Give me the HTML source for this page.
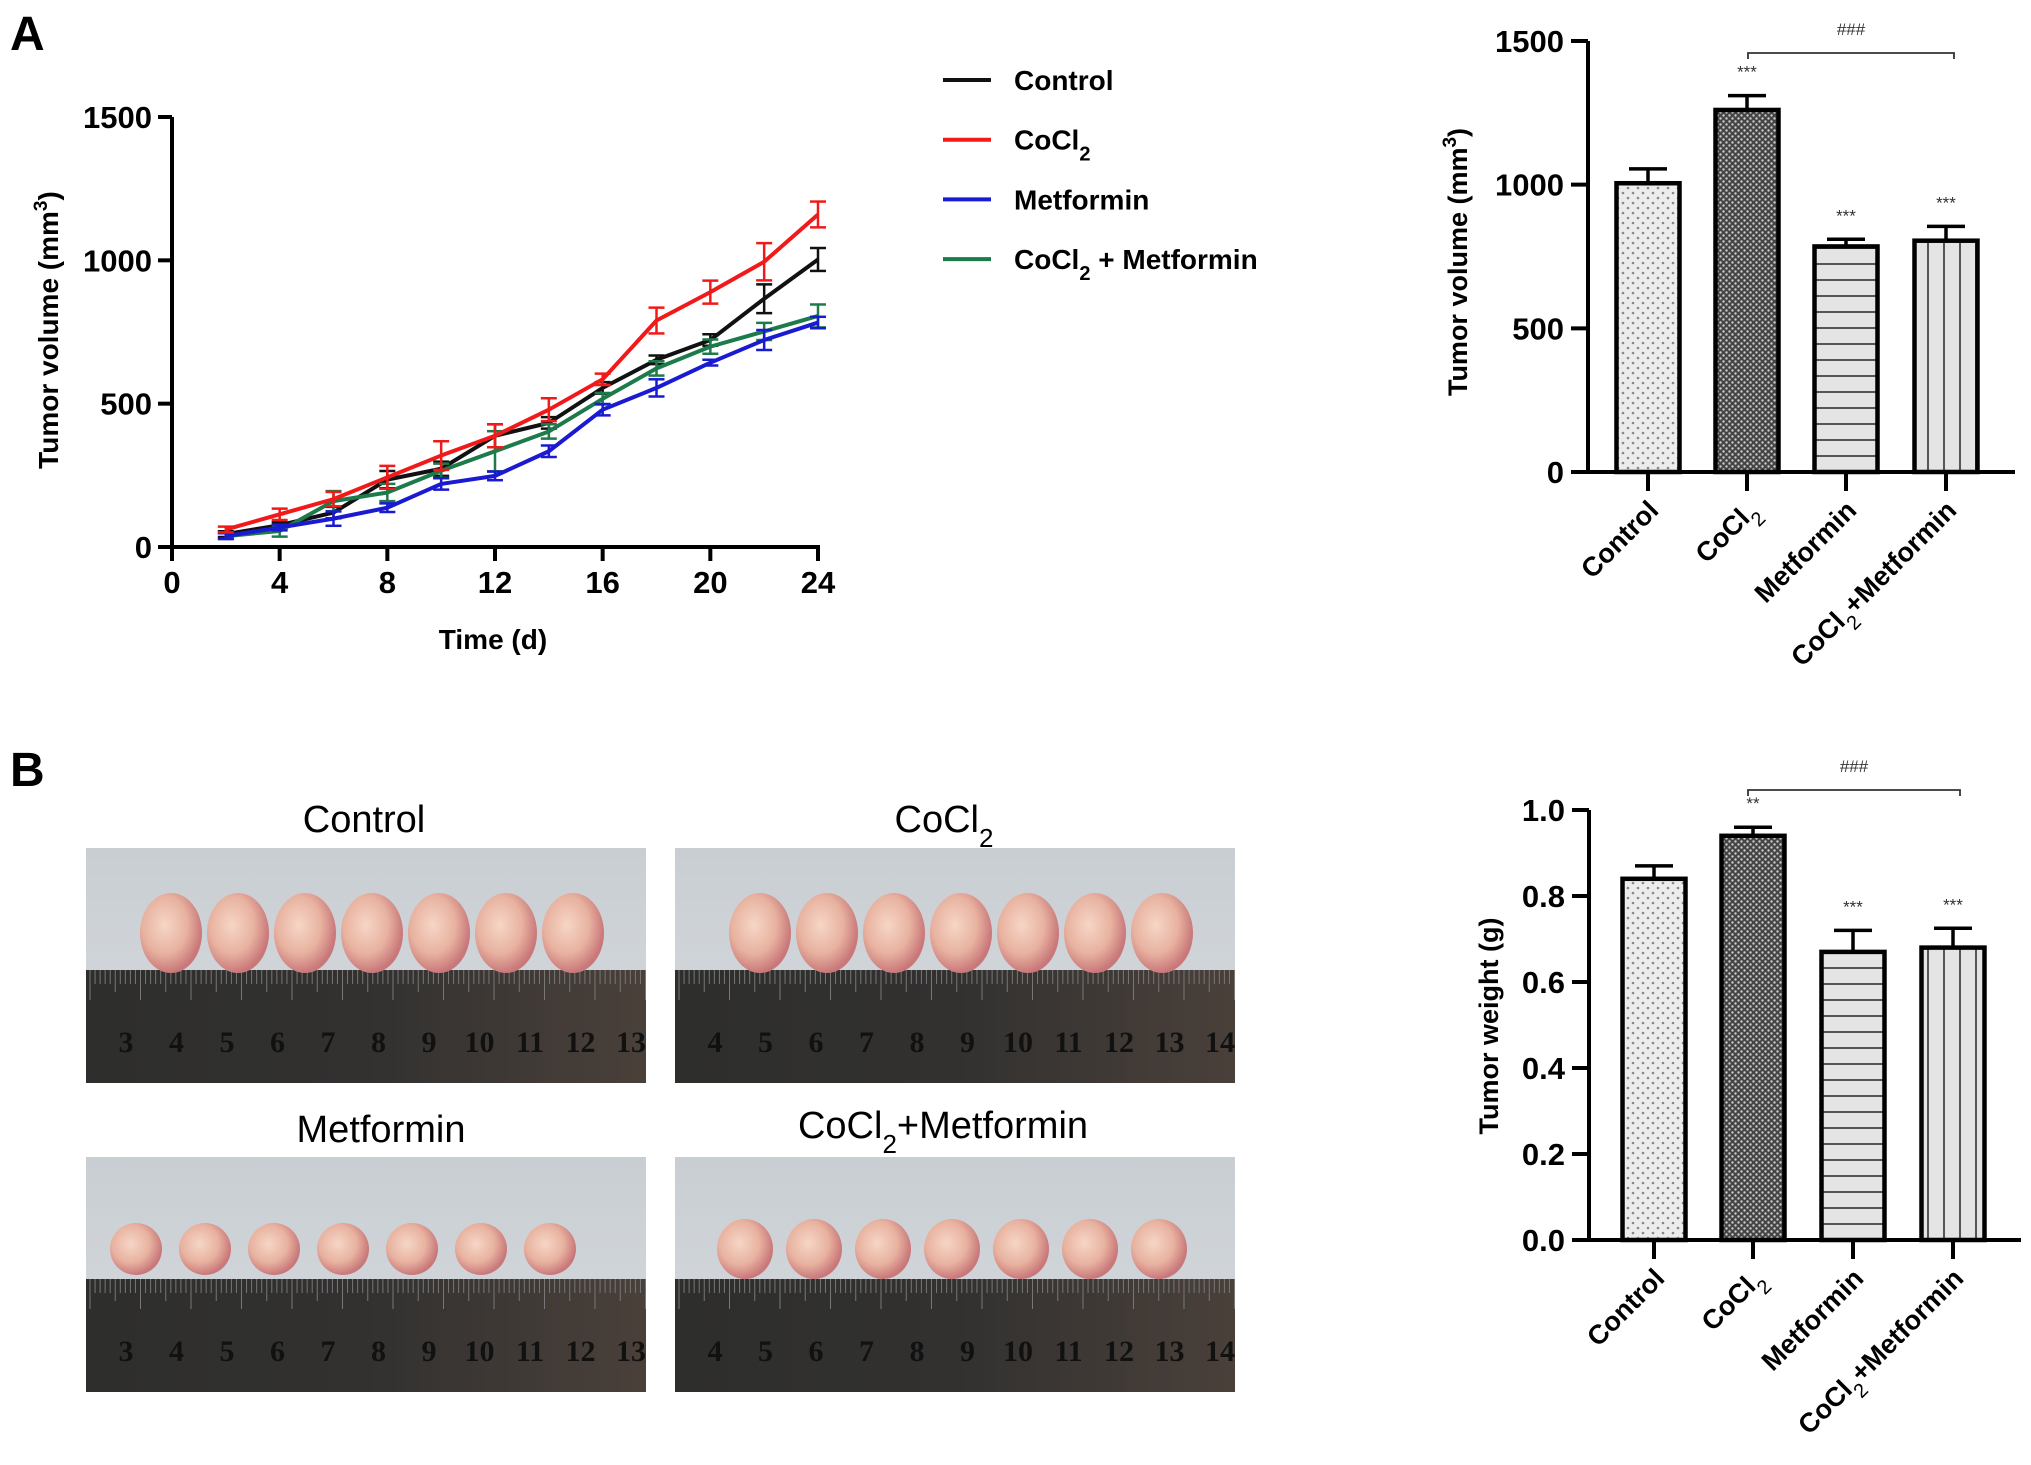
<!DOCTYPE html>
<html><head><meta charset="utf-8"><style>
html,body{margin:0;padding:0;background:#fff;}
svg{display:block;font-family:"Liberation Sans",Arial,sans-serif;}
</style></head><body>
<svg id="fig" width="2031" height="1465" viewBox="0 0 2031 1465" xmlns="http://www.w3.org/2000/svg">
<defs>
<pattern id="pDots" width="10" height="10" patternUnits="userSpaceOnUse"><rect width="10" height="10" fill="#ececec"/><circle cx="3" cy="3" r="1.3" fill="#888"/><circle cx="8" cy="8" r="1.3" fill="#888"/></pattern>
<pattern id="pCheck" width="6" height="6" patternUnits="userSpaceOnUse"><rect width="6" height="6" fill="#444"/><circle cx="1.5" cy="1.5" r="1.2" fill="#ccc"/><circle cx="4.5" cy="4.5" r="1.2" fill="#ccc"/></pattern>
<pattern id="pHoriz" width="10" height="16" patternUnits="userSpaceOnUse"><rect width="10" height="16" fill="#e4e4e4"/><rect y="7" width="10" height="2" fill="#555"/></pattern>
<pattern id="pVert" width="16" height="10" patternUnits="userSpaceOnUse"><rect width="16" height="10" fill="#e4e4e4"/><rect x="7" width="2" height="10" fill="#555"/></pattern>
<linearGradient id="bgTop" x1="0" y1="0" x2="0" y2="1"><stop offset="0" stop-color="#c9ced3"/><stop offset="1" stop-color="#d6dadd"/></linearGradient>
<linearGradient id="ruler" x1="0" y1="0" x2="1" y2="0"><stop offset="0" stop-color="#2e2e2c"/><stop offset="0.5" stop-color="#323130"/><stop offset="1" stop-color="#4a403a"/></linearGradient>
<radialGradient id="tumor" cx="0.4" cy="0.4" r="0.6"><stop offset="0" stop-color="#f6d6c6"/><stop offset="0.6" stop-color="#e8b2a0"/><stop offset="1" stop-color="#c9787a"/></radialGradient>
</defs>
<text x="10" y="50" font-size="48" font-weight="bold">A</text>
<text x="10" y="786" font-size="48" font-weight="bold">B</text>
<g id="lineChart"></g>
<g id="legend"></g>
<g id="barA"></g>
<g id="barB"></g>
<g id="photos"></g>
</svg>
<script>
// ---- Line chart data ----
const days = [2,4,6,8,10,12,14,16,18,20,22,24];
const controlVals = [45,76,120,235,273,388,433,555,653,722,866,1003];
const cocl2Vals = [61,114,167,243,319,388,479,585,790,889,995,1160];
const metVals = [38,68,99,137,220,248,334,479,555,643,722,783];
const comboVals = [38,56,160,190,266,334,403,517,623,699,752,806];
const controlErr = [10,10,20,30,25,40,20,20,15,20,50,40];
const cocl2Err = [10,20,25,40,50,40,40,20,45,40,65,45];
const metErr = [10,10,25,15,20,15,20,20,30,10,35,20];
const comboErr = [10,20,35,30,25,70,25,20,25,25,30,40];
const xTicks = [0,4,8,12,16,20,24];
const yTicksLine = [0,500,1000,1500];
// ---- Bar chart data ----
const groups = ["Control","CoCl2","Metformin","CoCl2+Metformin"];
const volMeans = [1005,1260,785,805];
const volErr = [50,50,25,50];
const volSig = ["","***","***","***"];
const volTicks = [0,500,1000,1500];
const wtMeans = [0.84,0.94,0.67,0.68];
const wtErr = [0.03,0.02,0.05,0.045];
const wtSig = ["","**","***","***"];
const wtTicks = [0,0.2,0.4,0.6,0.8,1.0];
const wtTickLabels = ["0.0","0.2","0.4","0.6","0.8","1.0"];

const NS="http://www.w3.org/2000/svg";
function mk(parent,tag,attrs,txt){const e=document.createElementNS(NS,tag);for(const k in attrs)e.setAttribute(k,attrs[k]);if(txt!==undefined)e.textContent=txt;parent.appendChild(e);return e;}

// ---- Line chart ----
(function(){
const g=document.getElementById('lineChart');
const X0=172,X1=818,Y0=547,Y1=117;
const xs=v=>X0+(v-0)/24*(X1-X0);
const ys=v=>Y0-(v/1500)*(Y0-Y1);
let a=mk(g,'line',{x1:X0,y1:Y0,x2:X0,y2:Y1,stroke:'#000','stroke-width':4});

a=mk(g,'line',{x1:X0-2,y1:Y0,x2:X1+2,y2:Y0,stroke:'#000','stroke-width':4});

yTicksLine.forEach(v=>{
 mk(g,'line',{x1:X0-14,y1:ys(v),x2:X0,y2:ys(v),stroke:'#000','stroke-width':4});
 const t=mk(g,'text',{x:X0-20,y:ys(v)+11,'font-size':31,'font-weight':'bold','text-anchor':'end'},String(v));
 
});
xTicks.forEach(v=>{
 mk(g,'line',{x1:xs(v),y1:Y0,x2:xs(v),y2:Y0+14,stroke:'#000','stroke-width':4});
 const t=mk(g,'text',{x:xs(v),y:Y0+46,'font-size':31,'font-weight':'bold','text-anchor':'middle'},String(v));
 
});
let t=mk(g,'text',{x:493,y:649,'font-size':28,'font-weight':'bold','text-anchor':'middle'},'Time (d)');

t=mk(g,'text',{x:0,y:0,'font-size':28,'font-weight':'bold','text-anchor':'middle',transform:'translate(58,330) rotate(-90)'});

t.innerHTML='Tumor volume (mm<tspan dy="-11" font-size="19">3</tspan><tspan dy="11">)</tspan>';
const series=[[controlVals,controlErr,'#111','control'],[comboVals,comboErr,'#1d7a4a','cocl2-metformin'],[metVals,metErr,'#1a1ad0','metformin'],[cocl2Vals,cocl2Err,'#f01a1a','cocl2']];
series.forEach(([vals,errs,col,nm])=>{
 const sg=mk(g,'g',{});
 
 vals.forEach((v,i)=>{
  const x=xs(days[i]);
  mk(sg,'line',{x1:x,y1:ys(v-errs[i]),x2:x,y2:ys(v+errs[i]),stroke:col,'stroke-width':2.5});
  mk(sg,'line',{x1:x-8,y1:ys(v+errs[i]),x2:x+8,y2:ys(v+errs[i]),stroke:col,'stroke-width':2.5});
  mk(sg,'line',{x1:x-8,y1:ys(v-errs[i]),x2:x+8,y2:ys(v-errs[i]),stroke:col,'stroke-width':2.5});
 });
 const p=mk(sg,'polyline',{points:vals.map((v,i)=>xs(days[i])+','+ys(v)).join(' '),fill:'none',stroke:col,'stroke-width':4,'stroke-linejoin':'round'});
 
});
// legend
const lg=document.getElementById('legend');
const entries=[['#111','Control'],['#f01a1a','CoCl<tspan baseline-shift="sub" font-size="20">2</tspan>'],['#1a1ad0','Metformin'],['#1d7a4a','CoCl<tspan baseline-shift="sub" font-size="20">2</tspan> + Metformin']];
entries.forEach(([c,lab],i)=>{
 const y=80+i*59.7;
 const eg=mk(lg,'g',{});
 
 mk(eg,'line',{x1:943,y1:y,x2:991,y2:y,stroke:c,'stroke-width':4});
 const tt=mk(eg,'text',{x:1014,y:y+10,'font-size':28,'font-weight':'bold'});tt.innerHTML=lab;
});
})();

// ---- Bar charts ----
function barChart(gid,cfg){
 const g=document.getElementById(gid);
 const {X0,X1,Y0,Y1,max,ticks,tickLabels,means,errs,sig,centers,bw,title,titleX,titleY,hashY,lineY,lineX0,lineX1}=cfg;
 const ys=v=>Y0-(v/max)*(Y0-Y1);
 const fills=['url(#pDots)','url(#pCheck)','url(#pHoriz)','url(#pVert)'];
 means.forEach((v,i)=>{
  const cx=centers[i];
  mk(g,'line',{x1:cx,y1:ys(v),x2:cx,y2:ys(v+errs[i]),stroke:'#000','stroke-width':3.5});
  mk(g,'line',{x1:cx-19,y1:ys(v+errs[i]),x2:cx+19,y2:ys(v+errs[i]),stroke:'#000','stroke-width':3.5});
  const r=mk(g,'rect',{x:cx-bw/2,y:ys(v),width:bw,height:Y0-ys(v),fill:fills[i],stroke:'#000','stroke-width':4.5});
  
  if(sig[i]){const s=mk(g,'text',{x:cx,y:ys(v+errs[i])-18,'font-size':17,'text-anchor':'middle',fill:'#333'},sig[i]);
   }
  mk(g,'line',{x1:cx,y1:Y0,x2:cx,y2:Y0+19,stroke:'#000','stroke-width':4});
  const lab=mk(g,'text',{x:0,y:0,'font-size':27,'font-weight':'bold','text-anchor':'end',transform:`translate(${cx+12},${Y0+40}) rotate(-45)`});
  
  lab.innerHTML=groups[i].replace('CoCl2','CoCl<tspan baseline-shift="sub" font-size="20" font-weight="normal">2</tspan>');
 });
 let a=mk(g,'line',{x1:X0,y1:Y0+2,x2:X0,y2:Y1,stroke:'#000','stroke-width':4});
 
 a=mk(g,'line',{x1:X0-2,y1:Y0,x2:X1,y2:Y0,stroke:'#000','stroke-width':4});
 
 ticks.forEach((v,i)=>{
  mk(g,'line',{x1:X0-17,y1:ys(v),x2:X0,y2:ys(v),stroke:'#000','stroke-width':4});
  const t=mk(g,'text',{x:X0-24,y:ys(v)+11,'font-size':31,'font-weight':'bold','text-anchor':'end'},tickLabels[i]);
  
 });
 const t=mk(g,'text',{x:0,y:0,'font-size':27,'font-weight':'bold','text-anchor':'middle',transform:`translate(${titleX},${titleY}) rotate(-90)`});
 
 t.innerHTML=title;
 const br=mk(g,'path',{d:`M${lineX0},${lineY+6} V${lineY} H${lineX1} V${lineY+6}`,fill:'none',stroke:'#333','stroke-width':1.8});
 
 const h=mk(g,'text',{x:(lineX0+lineX1)/2,y:hashY,'font-size':17,'text-anchor':'middle',fill:'#333'},'###');
 
}
barChart('barA',{X0:1588,X1:2015,Y0:472,Y1:41,max:1500,ticks:volTicks,tickLabels:volTicks.map(String),means:volMeans,errs:volErr,sig:volSig,
 centers:[1648,1747,1846,1946],bw:63,title:'Tumor volume (mm<tspan dy="-11" font-size="19">3</tspan><tspan dy="11">)</tspan>',titleX:1467,titleY:262,hashY:35,lineY:53,lineX0:1748,lineX1:1954});
barChart('barB',{X0:1589,X1:2021,Y0:1240,Y1:810,max:1.0,ticks:wtTicks,tickLabels:wtTickLabels,means:wtMeans,errs:wtErr,sig:wtSig,
 centers:[1654,1753,1853,1953],bw:63,title:'Tumor weight (g)',titleX:1498,titleY:1026,hashY:772,lineY:790,lineX0:1748,lineX1:1960});

// ---- Photos ----
(function(){
 const g=document.getElementById('photos');
 const panels=[[86,848,'Control',364,832,3],[675,848,'CoCl2',944,832,4],[86,1157,'Metformin',381,1142,3],[675,1157,'CoCl2+Metformin',943,1138,4]];
 panels.forEach(([x,y,title,tx,ty,startNum],pi)=>{
  const W=560,H=235;
  const pg=mk(g,'g',{});
  
  mk(pg,'rect',{x:x,y:y,width:W,height:H,fill:'url(#bgTop)'});
  const ry=y+Math.round(H*0.52);
  mk(pg,'rect',{x:x,y:ry,width:W,height:y+H-ry,fill:'url(#ruler)'});
  for(let k=0;k<=110;k++){const xx=x+4+k*5.05;mk(pg,'line',{x1:xx,y1:ry,x2:xx,y2:ry+(k%10==0?30:k%5==0?22:14),stroke:'#777','stroke-width':1});}
  for(let n=0;n<11;n++){const xx=x+40+n*50.5;mk(pg,'text',{x:xx,y:ry+82,'font-size':30,'font-family':'Liberation Serif, serif','font-weight':'bold','text-anchor':'middle',fill:'#111'},String(startNum+n));}
  const big=pi<2;
  for(let k=0;k<7;k++){
   const cx=x+(pi<2?85:50)+k*(pi<2?67:69)+(pi==3?20:0);
   const rx=big?31:(pi==2?26:28), ryy=big?40:(pi==2?26:30);
   const cy=big?y+85:y+92;
   mk(pg,'ellipse',{cx:cx,cy:cy,rx:rx,ry:ryy,fill:'url(#tumor)'});
  }
  const tt=mk(g,'text',{x:tx,y:ty,'font-size':38,'text-anchor':'middle'});
  
  tt.innerHTML=title.replace('CoCl2','CoCl<tspan baseline-shift="sub" font-size="26">2</tspan>');
 });
})();
</script>
</body></html>
